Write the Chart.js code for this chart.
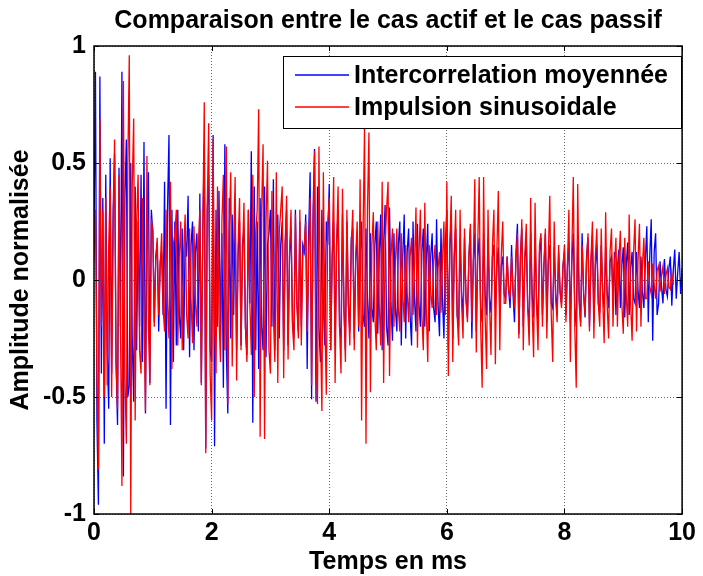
<!DOCTYPE html>
<html><head><meta charset="utf-8">
<script src="https://cdn.jsdelivr.net/npm/chart.js@4/dist/chart.umd.min.js"></script>
<style>html,body{margin:0;padding:0;background:#fff}</style>
</head><body>
<canvas id="c" width="703" height="576" style="width:703px;height:576px;display:block"></canvas>
<script>
const TITLE = "Comparaison entre le cas actif et le cas passif";
const X_LABEL = "Temps en ms";
const Y_LABEL = "Amplitude normalisée";
const SERIES_NAMES = ["Intercorrelation moyennée", "Impulsion sinusoidale"];
const SERIES_COLORS = ["#0000ff", "#ff0000"];
const DT = 0.025; // sampling step in ms
const X_TICKS = [0, 2, 4, 6, 8, 10];
const Y_TICKS = [-1, -0.5, 0, 0.5, 1];

// Intercorrelation moyennée (blue): one value every DT ms, 0 -> 10 ms (8 values per 0.2 ms row)
const blueValues = [
 0.20, 0.89,-0.60,-0.96, 0.87,-0.40, 0.35,-0.70,
 0.45,-0.30,-0.55, 0.52,-0.40, 0.30, 0.54,-0.35,
-0.62, 0.48,-0.20, 0.89,-0.84, 0.35, 0.60,-0.50,
-0.45, 0.50,-0.25,-0.52, 0.40,-0.30, 0.25,-0.20,
 0.45,-0.35, 0.59,-0.57, 0.20, 0.46,-0.44, 0.30,
 0.20,-0.18, 0.10, 0.16,-0.22, 0.08, 0.12,-0.15,
 0.42,-0.55, 0.30, 0.62,-0.62, 0.30,-0.35, 0.25,
-0.28, 0.30,-0.15,-0.25, 0.22,-0.30, 0.18, 0.10,
 0.36,-0.33, 0.15, 0.25,-0.30, 0.12, 0.20,-0.22,
 0.37,-0.44, 0.20, 0.58,-0.72, 0.30, 0.45,-0.30,
-0.35, 0.62,-0.71, 0.30,-0.20, 0.38,-0.25, 0.20,
-0.46, 0.58,-0.30,-0.57, 0.35,-0.25, 0.28,-0.15,
 0.29,-0.30, 0.10, 0.25,-0.28, 0.15, 0.22,-0.20,
-0.32, 0.30,-0.10, 0.55,-0.61, 0.40,-0.30, 0.25,
-0.38, 0.35,-0.20,-0.30, 0.40,-0.33, 0.15, 0.20,
 0.30,-0.20, 0.43,-0.30, 0.10, 0.28,-0.25, 0.15,
 0.25,-0.30, 0.15, 0.30,-0.28, 0.10, 0.22,-0.18,
-0.25, 0.30,-0.10,-0.22, 0.25,-0.20, 0.15, 0.12,
 0.28,-0.38, 0.20, 0.46,-0.51, 0.30, 0.56,-0.52,
 0.40,-0.20,-0.35, 0.30,-0.10,-0.28, 0.25, 0.15,
 0.41,-0.30, 0.10, 0.25,-0.28, 0.15, 0.30,-0.20,
-0.25, 0.28,-0.12,-0.30, 0.25,-0.10,-0.22, 0.18,
 0.22,-0.25, 0.08, 0.20,-0.22, 0.10, 0.25,-0.15,
-0.20, 0.22,-0.08,-0.25, 0.20,-0.12,-0.18, 0.15,
 0.25,-0.23, 0.10, 0.28,-0.30, 0.15, 0.32,-0.20,
-0.28, 0.31,-0.10,-0.26, 0.20,-0.12,-0.22, 0.15,
 0.25,-0.28, 0.10, 0.28,-0.25, 0.12, 0.22,-0.15,
-0.28, 0.25,-0.08,-0.22, 0.24,-0.10,-0.20, 0.12,
 0.22,-0.20, 0.08, 0.24,-0.22, 0.10, 0.20,-0.12,
-0.18, 0.26,-0.10,-0.24, 0.22,-0.08,-0.25, 0.15,
 0.30,-0.30, 0.12, 0.28,-0.25, 0.10, 0.22,-0.15,
-0.20, 0.18,-0.06,-0.15, 0.18,-0.08,-0.16, 0.10,
 0.22,-0.25, 0.08, 0.20,-0.22, 0.10, 0.18,-0.12,
-0.18, 0.20,-0.06,-0.15, 0.18,-0.08,-0.14, 0.10,
 0.15,-0.12, 0.05, 0.14,-0.15, 0.06, 0.10,-0.06,
-0.08, 0.10,-0.04,-0.12, 0.15,-0.06,-0.18, 0.12,
 0.24,-0.23, 0.10, 0.22,-0.20, 0.08, 0.18,-0.12,
-0.18, 0.20,-0.06,-0.16, 0.18,-0.08,-0.20, 0.12,
 0.18,-0.15, 0.06, 0.20,-0.18, 0.08, 0.15,-0.10,
-0.12, 0.14,-0.05,-0.15, 0.12,-0.05,-0.10, 0.06,
 0.12,-0.15, 0.06, 0.16,-0.18, 0.08, 0.20,-0.12,
-0.20, 0.20,-0.08,-0.18, 0.20,-0.06,-0.16, 0.10,
 0.18,-0.20, 0.08, 0.19,-0.18, 0.06, 0.15,-0.10,
-0.14, 0.15,-0.05,-0.12, 0.14,-0.05,-0.12, 0.08,
 0.10,-0.08, 0.12,-0.15, 0.05, 0.13,-0.12, 0.06,
 0.14,-0.16, 0.06, 0.16,-0.15, 0.05, 0.12,-0.08,
-0.10, 0.12,-0.04,-0.12, 0.10,-0.05,-0.12, 0.08,
 0.23,-0.18, 0.10, 0.26,-0.26, 0.12, 0.20,-0.15,
-0.10, 0.08,-0.03,-0.10, 0.09,-0.04,-0.07, 0.05,
 0.10,-0.11, 0.04, 0.13,-0.08, 0.03, 0.12,-0.06,
 0.05
];

// Impulsion sinusoidale (red): one value every DT ms, 0 -> 9.85 ms
const redValues = [
 0.08, 0.30,-0.40,-0.81, 0.69,-0.20, 0.30,-0.50,
 0.35,-0.45, 0.15, 0.40,-0.50, 0.20, 0.60,-0.35,
-0.55, 0.45,-0.20,-0.88, 0.85,-0.40,-0.70, 0.50,
 0.96,-1.00, 0.40, 0.69,-0.60, 0.25, 0.45,-0.30,
-0.40, 0.35,-0.15,-0.56, 0.53,-0.20,-0.45, 0.25,
 0.22,-0.20, 0.08, 0.18,-0.15, 0.05, 0.20,-0.12,
-0.22, 0.30,-0.10,-0.25, 0.42,-0.38, 0.15, 0.20,
 0.30,-0.28, 0.10, 0.25,-0.30, 0.12, 0.28,-0.15,
-0.25, 0.22,-0.08,-0.27, 0.23,-0.10,-0.20, 0.15,
 0.30,-0.45, 0.20, 0.76,-0.74, 0.30, 0.67,-0.40,
-0.60, 0.60,-0.20,-0.40, 0.40,-0.15,-0.35, 0.25,
 0.45,-0.30, 0.57,-0.53, 0.20, 0.46,-0.37, 0.15,
 0.44,-0.43, 0.15, 0.35,-0.30, 0.10, 0.33,-0.20,
-0.35, 0.30,-0.10,-0.32, 0.45,-0.50, 0.20, 0.30,
 0.73,-0.67, 0.30, 0.58,-0.68, 0.25, 0.51,-0.30,
-0.40, 0.38,-0.15,-0.35, 0.46,-0.44, 0.20, 0.30,
 0.40,-0.42, 0.15, 0.36,-0.34, 0.12, 0.30,-0.20,
-0.30, 0.28,-0.10,-0.25, 0.30,-0.28, 0.10, 0.15,
 0.25,-0.22, 0.10, 0.35,-0.45, 0.20, 0.55,-0.30,
-0.53, 0.57,-0.20,-0.56, 0.46,-0.15,-0.49, 0.25,
 0.35,-0.30, 0.10, 0.44,-0.44, 0.15, 0.40,-0.20,
-0.40, 0.39,-0.12,-0.35, 0.30,-0.10,-0.28, 0.15,
 0.30,-0.30, 0.10, 0.25,-0.20, 0.43,-0.60, 0.20,
 0.65,-0.70, 0.30, 0.63,-0.48, 0.15, 0.29,-0.15,
-0.30, 0.25,-0.10,-0.28, 0.42,-0.44, 0.15, 0.30,
 0.42,-0.41, 0.10, 0.22,-0.20, 0.08, 0.22,-0.12,
-0.22, 0.20,-0.06,-0.18, 0.15,-0.05,-0.18, 0.10,
 0.18,-0.15, 0.06, 0.31,-0.29, 0.10, 0.30,-0.15,
-0.30, 0.33,-0.12,-0.35, 0.15,-0.05,-0.12, 0.08,
 0.15,-0.15, 0.05, 0.12,-0.14, 0.08, 0.25,-0.15,
 0.42,-0.41, 0.15, 0.36,-0.35, 0.10, 0.30,-0.15,
-0.28, 0.30,-0.10,-0.25, 0.22,-0.08,-0.18, 0.10,
 0.24,-0.18, 0.08, 0.43,-0.31, 0.15, 0.44,-0.20,
-0.46, 0.44,-0.15,-0.38, 0.30,-0.10,-0.32, 0.15,
 0.30,-0.36, 0.12, 0.38,-0.30, 0.10, 0.25,-0.10,
-0.10, 0.10,-0.04,-0.08, 0.10,-0.04,-0.12, 0.08,
 0.20,-0.25, 0.08, 0.26,-0.30, 0.10, 0.24,-0.12,
-0.28, 0.35,-0.12,-0.33, 0.33,-0.10,-0.30, 0.15,
 0.20,-0.20, 0.06, 0.22,-0.25, 0.10, 0.36,-0.15,
-0.35, 0.25,-0.08,-0.18, 0.15,-0.05,-0.12, 0.06,
 0.15,-0.18, 0.06, 0.30,-0.35, 0.12, 0.44,-0.20,
-0.46, 0.41,-0.10,-0.20, 0.15,-0.05,-0.15, 0.08,
 0.20,-0.22, 0.08, 0.25,-0.25, 0.10, 0.22,-0.10,
-0.20, 0.22,-0.08,-0.27, 0.29,-0.10,-0.25, 0.12,
 0.22,-0.20, 0.06, 0.18,-0.20, 0.08, 0.21,-0.10,
-0.23, 0.18,-0.06,-0.20, 0.28,-0.10,-0.26, 0.12,
 0.26,-0.22, 0.08, 0.24,-0.20, 0.06, 0.18,-0.08,
-0.08, 0.08,-0.03,-0.06, 0.07,-0.02,-0.08, 0.04,
 0.06,-0.05, 0.02, 0.06,-0.06, 0.02, 0.05,-0.03,
-0.04, 0.03,-0.02
];

const toPoints = vals => vals.map((v, i) => ({ x: +(i * DT).toFixed(3), y: v }));

const FONT = '"Liberation Sans", Arial, Helvetica, sans-serif';
const FS = 25;
Chart.defaults.font.family = FONT;
Chart.defaults.color = '#000';

const decor = {
  id: 'decor',
  afterDraw(chart) {
    const { ctx, chartArea: a, scales } = chart;
    ctx.save();
    // inward tick marks on all four sides
    ctx.strokeStyle = '#000';
    ctx.lineWidth = 1;
    const TL = 5;
    ctx.beginPath();
    X_TICKS.forEach(v => {
      const px = Math.round(scales.x.getPixelForValue(v)) + 0.5;
      ctx.moveTo(px, a.bottom); ctx.lineTo(px, a.bottom - TL);
      ctx.moveTo(px, a.top); ctx.lineTo(px, a.top + TL);
    });
    Y_TICKS.forEach(v => {
      const py = Math.round(scales.y.getPixelForValue(v)) + 0.5;
      ctx.moveTo(a.left, py); ctx.lineTo(a.left + TL, py);
      ctx.moveTo(a.right, py); ctx.lineTo(a.right - TL, py);
    });
    ctx.stroke();
    // axes box
    ctx.lineWidth = 1.5;
    ctx.strokeRect(a.left, a.top, a.right - a.left, a.bottom - a.top);

    // legend box (inside axes, top right)
    const lx = 283.5, ly = 56.5, lw = 398, lh = 72;
    ctx.fillStyle = '#fff';
    ctx.fillRect(lx, ly, lw, lh);
    ctx.lineWidth = 1;
    ctx.strokeStyle = '#000';
    ctx.strokeRect(lx, ly, lw, lh);
    const rows = [75, 107];
    SERIES_NAMES.forEach((name, i) => {
      ctx.strokeStyle = SERIES_COLORS[i];
      ctx.lineWidth = 1.6;
      ctx.beginPath();
      ctx.moveTo(295, rows[i]); ctx.lineTo(349, rows[i]);
      ctx.stroke();
      ctx.fillStyle = '#000';
      ctx.font = `bold ${FS}px ${FONT}`;
      ctx.textAlign = 'left';
      ctx.textBaseline = 'middle';
      ctx.fillText(name, 354, rows[i] + 1.5);
    });

    // title
    ctx.fillStyle = '#000';
    ctx.font = `bold ${FS}px ${FONT}`;
    ctx.textAlign = 'center';
    ctx.textBaseline = 'middle';
    ctx.fillText(TITLE, (a.left + a.right) / 2, 21);
    ctx.restore();
  }
};

new Chart(document.getElementById('c'), {
  type: 'line',
  data: {
    datasets: [
      { label: SERIES_NAMES[0], data: toPoints(blueValues), borderColor: SERIES_COLORS[0], borderWidth: 1.3, pointRadius: 0, tension: 0, order: 1 },
      { label: SERIES_NAMES[1], data: toPoints(redValues), borderColor: SERIES_COLORS[1], borderWidth: 1.3, pointRadius: 0, tension: 0, order: 0 }
    ]
  },
  options: {
    responsive: false,
    animation: false,
    devicePixelRatio: 1,
    layout: { padding: { top: 46, right: 14, left: 0, bottom: 0 } },
    plugins: { legend: { display: false }, tooltip: { enabled: false }, title: { display: false } },
    scales: {
      x: {
        type: 'linear', min: 0, max: 10,
        afterBuildTicks: s => { s.ticks = X_TICKS.map(v => ({ value: v })); },
        afterFit: s => { s.height = 62; },
        grid: { color: '#666', lineWidth: 1, drawTicks: false },
        border: { display: false, dash: [1, 2] },
        ticks: { font: { size: FS, weight: 'bold', lineHeight: 1 }, color: '#000', padding: 7, maxRotation: 0, callback: v => String(v) },
        title: { display: true, text: X_LABEL, font: { size: FS, weight: 'bold', lineHeight: 1 }, color: '#000', padding: { top: 0, bottom: 1 } }
      },
      y: {
        type: 'linear', min: -1, max: 1,
        afterBuildTicks: s => { s.ticks = Y_TICKS.map(v => ({ value: v })); },
        afterFit: s => { s.width = 94; },
        grid: { color: '#666', lineWidth: 1, drawTicks: false },
        border: { display: false, dash: [1, 2] },
        ticks: { font: { size: FS, weight: 'bold', lineHeight: 1 }, color: '#000', padding: 8, callback: v => String(v) },
        title: { display: true, text: Y_LABEL, font: { size: FS, weight: 'bold', lineHeight: 1 }, color: '#000', padding: { top: 9, bottom: 0 } }
      }
    }
  },
  plugins: [decor]
});
</script>
</body></html>
